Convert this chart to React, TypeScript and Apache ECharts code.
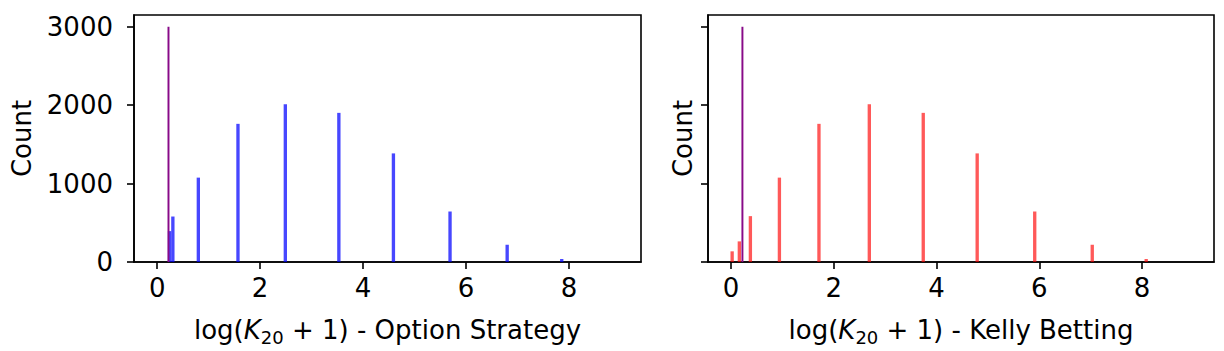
import React, { useEffect, useRef } from "react";
import * as echarts from "echarts";

const optionX = [0.24, 0.305, 0.8, 1.57, 2.49, 3.53, 4.59, 5.69, 6.8, 7.86];
const optionCount = [394, 580, 1076, 1762, 2012, 1902, 1385, 644, 220, 38];
const kellyX = [0.02, 0.16, 0.375, 0.94, 1.71, 2.69, 3.74, 4.79, 5.91, 7.03, 8.08];
const kellyCount = [136, 263, 585, 1076, 1762, 2012, 1902, 1385, 644, 220, 38];
const markerX = [0.22];
const markerCount = [3000];
const xTicks = [0, 2, 4, 6, 8];
const yTicks = [0, 1000, 2000, 3000];
const binWidth = 0.065;
const markerWidth = 0.038;

const FONT = "DejaVu Sans";
const FS = 26;

function barSeries(xs: number[], ys: number[], w: number, fill: string, xi: number, z: number) {
  return {
    type: "custom",
    xAxisIndex: xi,
    yAxisIndex: xi,
    z,
    data: xs.map((x, i) => [x, ys[i]]),
    renderItem: (_p: any, api: any) => {
      const x = api.value(0);
      const y = api.value(1);
      const p0 = api.coord([x - w / 2, 0]);
      const p1 = api.coord([x + w / 2, y]);
      return {
        type: "rect",
        shape: { x: p0[0], y: p1[1], width: p1[0] - p0[0], height: p0[1] - p1[1] },
        style: { fill },
      };
    },
  };
}

function xAxis(gi: number, label: string) {
  return {
    type: "value",
    gridIndex: gi,
    min: -0.45,
    max: 9.4,
    name: `log({k|K}{s|20} + 1) - ${label}`,
    nameLocation: "middle",
    nameGap: 52,
    nameTextStyle: {
      fontFamily: FONT,
      fontSize: FS,
      color: "#000",
      rich: {
        k: { fontFamily: FONT, fontSize: FS, fontStyle: "italic", color: "#000" },
        s: { fontFamily: FONT, fontSize: 18, color: "#000", verticalAlign: "bottom", padding: [14, 0, 0, 0] },
      },
    },
    axisLine: { show: true, onZero: false, lineStyle: { color: "#000", width: 1.6 } },
    axisTick: { show: true, length: 7, customValues: xTicks, lineStyle: { color: "#000", width: 1.6 } },
    axisLabel: { customValues: xTicks, fontFamily: FONT, fontSize: FS, color: "#000", margin: 13 },
    splitLine: { show: false },
  };
}

function yAxis(gi: number, showLabels: boolean, gap: number) {
  return {
    type: "value",
    gridIndex: gi,
    min: 0,
    max: 3150,
    name: "Count",
    nameLocation: "middle",
    nameGap: gap,
    nameTextStyle: { fontFamily: FONT, fontSize: FS, color: "#000" },
    axisLine: { show: true, onZero: false, lineStyle: { color: "#000", width: 1.6 } },
    axisTick: { show: true, length: 7, customValues: yTicks, lineStyle: { color: "#000", width: 1.6 } },
    axisLabel: {
      show: showLabels,
      customValues: yTicks,
      formatter: (v: number) => String(v),
      fontFamily: FONT,
      fontSize: FS,
      color: "#000",
      margin: 21,
    },
    splitLine: { show: false },
  };
}

export default function App() {
  const ref = useRef<HTMLDivElement>(null);
  useEffect(() => {
    const chart = echarts.init(ref.current!, undefined, { renderer: "svg" });
    chart.setOption({
      animation: false,
      backgroundColor: "#fff",
      grid: [
        { left: 134, top: 15, width: 507, height: 248, show: true, borderColor: "#000", borderWidth: 1.6, backgroundColor: "transparent" },
        { left: 708, top: 15, width: 506, height: 248, show: true, borderColor: "#000", borderWidth: 1.6, backgroundColor: "transparent" },
      ],
      xAxis: [xAxis(0, "Option Strategy"), xAxis(1, "Kelly Betting")],
      yAxis: [yAxis(0, true, 99), yAxis(1, false, 12)],
      series: [
        barSeries(optionX, optionCount, binWidth, "rgba(0,0,255,0.72)", 0, 2),
        barSeries(markerX, markerCount, markerWidth, "#880a88", 0, 3),
        barSeries(kellyX, kellyCount, binWidth, "rgba(255,0,0,0.65)", 1, 2),
        barSeries(markerX, markerCount, markerWidth, "#880a88", 1, 3),
      ],
    });
    return () => chart.dispose();
  }, []);
  return <div ref={ref} style={{ width: 1224, height: 351, position: "absolute", left: 0, top: 0 }} />;
}
